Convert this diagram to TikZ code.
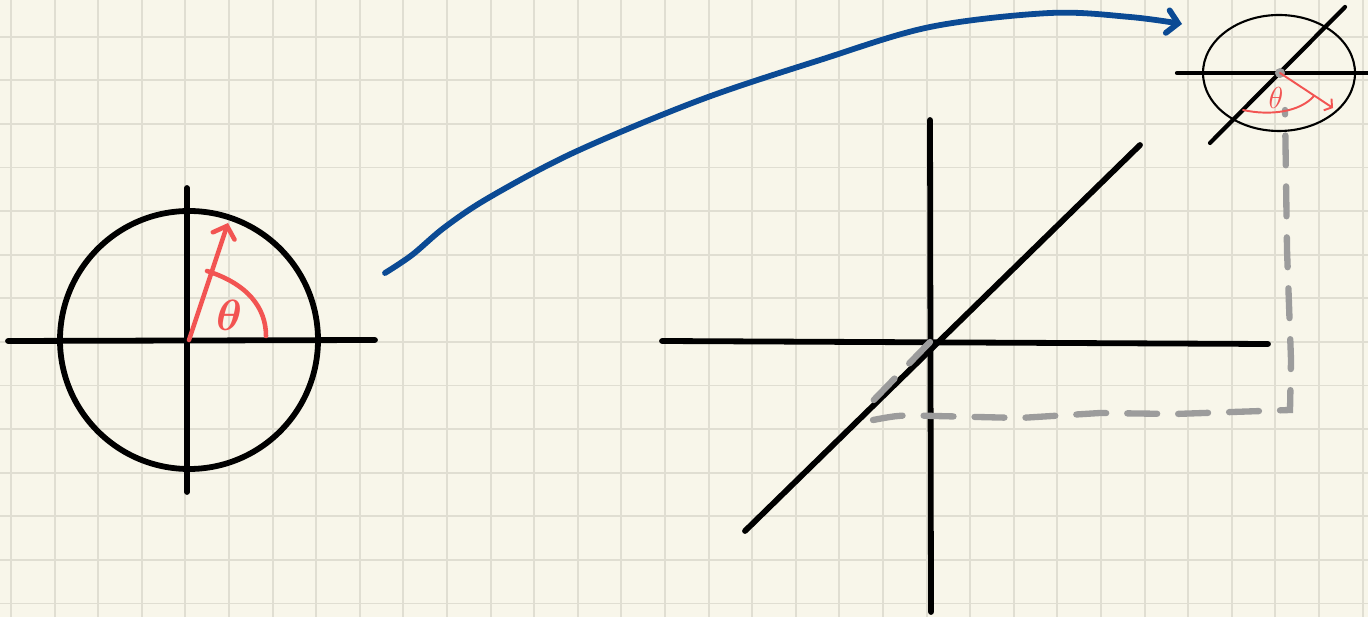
\documentclass[tikz,border=0pt]{standalone}
\usepackage{amsmath,amssymb}
\usepackage{tikz}
\usetikzlibrary{arrows.meta,calc}
\definecolor{paper}{HTML}{F8F6EA}
\definecolor{gridgray}{HTML}{E0DED2}
\definecolor{inkred}{HTML}{F25452}
\definecolor{inkblue}{HTML}{0B4A94}
\definecolor{inkgray}{HTML}{9C9C9C}
\tikzset{
    gridline/.style={draw=gridgray,line width=1.1pt},
    axis/.style={draw=black,line width=3.3pt,line cap=round},
    thinaxis/.style={draw=black,line width=2.4pt,line cap=round},
    ring/.style={draw=black,line width=3.3pt},
    thinring/.style={draw=black,line width=1.2pt},
    redpen/.style={draw=inkred,line width=2.6pt,line cap=round,line join=round},
    thinred/.style={draw=inkred,line width=1.1pt,line cap=round,line join=round},
    bluepen/.style={draw=inkblue,line width=3.3pt,line cap=round,line join=round},
    graypen/.style={draw=inkgray,line width=3.6pt,line cap=round,dash pattern=on 17pt off 12pt},
    barb/.style={-{Straight Barb[length=6pt,width=13pt,line cap=round]}},
    thetabig/.style={text=inkred,font=\fontsize{28}{28}\selectfont\bfseries,inner sep=0pt},
    thetasmall/.style={text=inkred,font=\fontsize{16}{16}\selectfont,inner sep=0pt}
}
\begin{document}
\begin{tikzpicture}[x=0.02cm,y=-0.02cm]
\useasboundingbox (0,0) rectangle (1368,617);
\fill[paper] (0,0) rectangle (1368,617);
\foreach \i in {0,...,31}
  \draw[gridline] ({11+43.6*\i},0) -- ({11+43.6*\i},617);
\foreach \j in {0,...,13}
  \draw[gridline] (0,{36.7+43.6*\j}) -- (1368,{36.7+43.6*\j});

\coordinate (origA) at (189,340);
\coordinate (origB) at (930,342);
\coordinate (origC) at (1280,73);

\draw[ring] (origA) circle (129);
\draw[axis] (8,341) -- (375,340);
\draw[axis] (187,188) -- (187,492);
\draw[redpen,barb] (origA) -- (228,223);
\draw[redpen] (207,271) .. controls (248,284) and (266,308) .. (266,336);
\node[thetabig] (thA) at (229,315) {$\boldsymbol{\theta}$};

\draw[bluepen,barb] plot[smooth,tension=0.55] coordinates
  {(385,273) (412,255) (445,227) (490,197) (575,152) (700,100) (820,60) (930,27) (1050,13) (1130,17) (1182,24)};

\draw[axis] (662,341) -- (1268,344);
\draw[axis] (930,120) -- (931,612);
\draw[axis] (745,531) -- (1140,145);

\draw[graypen] (origB) -- (866,408);
\draw[graypen] (873,420) .. controls (900,415) .. (935,416) -- (1020,418) -- (1100,413) -- (1175,414) -- (1290,410) -- (1291,360) -- (1287,250) -- (1285,110);

\draw[thinring] (1279,73) ellipse (76 and 58);
\draw[thinaxis] (1177,73) -- (1368,73);
\draw[thinaxis] (1210,143) -- (1345,7);
\fill[inkgray] (origC) circle (5);
\draw[thinred,-{Straight Barb[length=3pt,width=8pt]}] (origC) -- (1333,108);
\draw[thinred] (1243,110) .. controls (1270,116) and (1300,112) .. (1314,96);
\node[thetasmall] (thC) at (1276,98) {$\theta$};
\end{tikzpicture}
\end{document}
